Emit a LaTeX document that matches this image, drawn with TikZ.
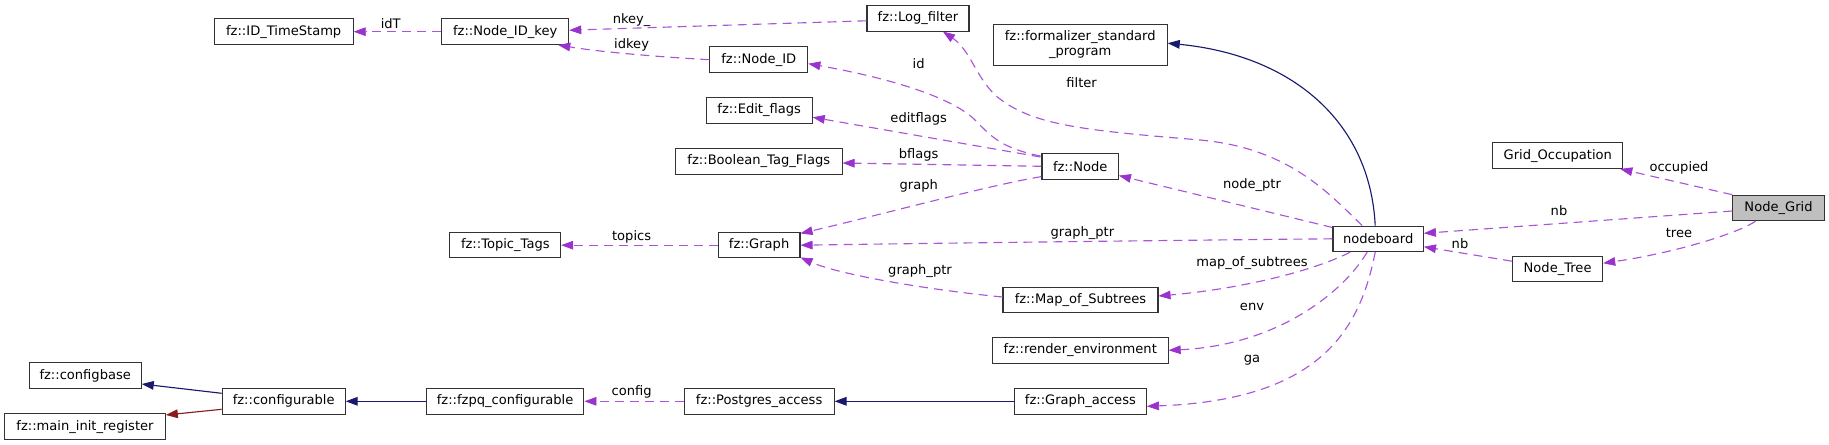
\documentclass[tikz,border=0pt]{standalone}
\usepackage{fontspec}
\setmainfont{DejaVu Sans}
\usetikzlibrary{arrows.meta,calc}
\definecolor{dorchid}{HTML}{9A32CD}
\definecolor{dline}{HTML}{A855D8}
\definecolor{mnblue}{HTML}{191970}
\definecolor{fbrick}{HTML}{8B1A1A}
\definecolor{gfill}{HTML}{BFBFBF}
\definecolor{bord}{HTML}{333333}
\tikzset{
  bx/.style={draw=bord, line width=0.8pt, rectangle, inner sep=0pt,
    minimum height=25.5*0.75pt, minimum width=#1*0.75pt, align=center,
    font=\fontsize{9.8}{11.6}\selectfont},
  lbl/.style={inner sep=0pt, font=\fontsize{9.8}{11.6}\selectfont},
  dep/.style={draw=dline, line width=0.85pt, dash pattern=on 6.75pt off 4.5pt,
    -{Triangle[length=9pt,width=6.5pt,color=dorchid,fill=dorchid,line width=0.5pt,sep=0pt]}},
  inh/.style={draw=mnblue, line width=0.85pt,
    -{Triangle[length=9pt,width=6.5pt,fill=mnblue]}},
  inhr/.style={draw=fbrick, line width=0.85pt,
    -{Triangle[length=9pt,width=6.5pt,fill=fbrick]}}
}
\begin{document}
\begin{tikzpicture}[x=0.75pt,y=-0.75pt]
\useasboundingbox (0,0) rectangle (1829,445);
% nodes
\node[bx=139] (ts) at (283.7,31.7) {fz::ID\_TimeStamp};
\node[bx=127] (nik) at (505.2,31.7) {fz::Node\_ID\_key};
\node[bx=102] (lf) at (918,18.3) {fz::Log\_filter};
\node[bx=174, minimum height=41*0.75pt] (fsp) at (1080.2,44.7) {fz::formalizer\_standard\\\_program};
\node[bx=98] (nid) at (758.8,59.7) {fz::Node\_ID};
\node[bx=106] (ef) at (759.2,110.3) {fz::Edit\_flags};
\node[bx=166.5] (btf) at (758.8,161.5) {fz::Boolean\_Tag\_Flags};
\node[bx=76.4] (nd) at (1080.2,166.3) {fz::Node};
\node[bx=130] (go) at (1557.8,155.7) {Grid\_Occupation};
\node[bx=91.5, fill=gfill] (ng) at (1778.5,208) {Node\_Grid};
\node[bx=90.4] (nb) at (1378.2,238.8) {nodeboard};
\node[bx=90.2] (nt) at (1557.6,269.2) {Node\_Tree};
\node[bx=110.7] (tt) at (505.3,245.2) {fz::Topic\_Tags};
\node[bx=81.8] (gr) at (759.1,245.2) {fz::Graph};
\node[bx=155] (mos) at (1080.5,300) {fz::Map\_of\_Subtrees};
\node[bx=175.6] (re) at (1080.3,350.3) {fz::render\_environment};
\node[bx=112] (cb) at (85.2,375.7) {fz::configbase};
\node[bx=123] (cf) at (283.7,401.3) {fz::configurable};
\node[bx=160.6] (mir) at (85,426.7) {fz::main\_init\_register};
\node[bx=157.7] (fzpq) at (505.1,401.3) {fz::fzpq\_configurable};
\node[bx=150] (pa) at (759.1,401.3) {fz::Postgres\_access};
\node[bx=132] (gac) at (1080.4,401.3) {fz::Graph\_access};
% edges
\draw[dep] (nik.west) -- (ts.east);
\draw[dep] ($(lf.west)+(0,2.5)$) -- ($(nik.east)+(0,-1.5)$);
\draw[dep] (nid.west) .. controls (660,57) and (600,52) .. ($(nik.south east)+(-11,0)$);
\draw[dep] ($(nd.north west)+(-1,3)$) .. controls (1000,148) and (990,135) .. (975,120)
  .. controls (955,100) and (900,80) .. ($(nid.east)+(0,4)$);
\draw[dep] ($(nb.north)+(-16,0)$) .. controls (1330,195) and (1290,148) .. (1200,140)
  .. controls (1080,130) and (1030,125) .. (995,95)
  .. controls (975,75) and (970,50) .. ($(lf.south)+(25,0)$);
\draw[dep] ($(nd.north west)+(-1,4)$) -- ($(ef.east)+(0,7)$);
\draw[dep] (nd.west) -- ($(btf.east)+(0,1.5)$);
\draw[dep] ($(nd.south west)+(0,-3)$) .. controls (990,185) and (880,215) .. ($(gr.north east)+(0,1.5)$);
\draw[dep] ($(nb.north west)+(0,2)$) -- ($(nd.south east)+(0,-4)$);
\draw[dep] (nb.west) .. controls (1200,240) and (950,243) .. (gr.east);
\draw[dep] ($(mos.west)+(0,-3)$) .. controls (930,290) and (840,275) .. ($(gr.south east)+(0,-1)$);
\draw[dep] ($(nb.south)+(-28,0)$) .. controls (1320,268) and (1250,288) .. ($(mos.east)+(0,-4)$);
\draw[dep] ($(nb.south)+(-11,0)$) .. controls (1345,290) and (1280,345) .. (re.east);
\draw[dep] ($(nb.south)+(-3,0)$) .. controls (1360,330) and (1320,400) .. ($(gac.east)+(0,5)$);
\draw[inh] ($(nb.north)+(-3,0)$) .. controls (1370,120) and (1290,55) .. ($(fsp.east)+(0,-1.5)$);
\draw[dep] (ng.north west) -- ($(go.south east)+(-3,0)$);
\draw[dep] ($(ng.west)+(0,3)$) -- ($(nb.east)+(0,-5.5)$);
\draw[dep] ($(ng.south)+(-23,0)$) .. controls (1740,232) and (1680,252) .. ($(nt.east)+(0,-6)$);
\draw[dep] ($(nt.west)+(0,-8)$) -- ($(nb.east)+(0,8)$);
\draw[dep] (gr.west) -- (tt.east);
\draw[dep] (pa.west) -- (fzpq.east);
\draw[inh] (gac.west) -- (pa.east);
\draw[inh] (fzpq.west) -- (cf.east);
\draw[inh] ($(cf.west)+(0,-8)$) -- ($(cb.east)+(0,8.3)$);
\draw[inhr] ($(cf.west)+(0,8)$) -- ($(mir.east)+(0,-11.7)$);
% labels
\node[lbl] (l1) at (390.7,24) {idT};
\node[lbl] (l2) at (631.6,20) {nkey\_};
\node[lbl] (l3) at (631.6,45) {idkey};
\node[lbl] (l4) at (918.7,64) {id};
\node[lbl] (l5) at (1081.6,83) {filter};
\node[lbl] (l6) at (918.7,119) {editflags};
\node[lbl] (l7) at (918.7,155) {bflags};
\node[lbl] (l8) at (918.7,186) {graph};
\node[lbl] (l9) at (631.6,237) {topics};
\node[lbl] (l10) at (1082.4,233) {graph\_ptr};
\node[lbl] (l11) at (920,271) {graph\_ptr};
\node[lbl] (l12) at (631.6,392) {config};
\node[lbl] (l13) at (1252,185) {node\_ptr};
\node[lbl] (l14) at (1252,263) {map\_of\_subtrees};
\node[lbl] (l15) at (1252,307) {env};
\node[lbl] (l16) at (1252,360) {ga};
\node[lbl] (l17) at (1679,168) {occupied};
\node[lbl] (l18) at (1559,211) {nb};
\node[lbl] (l19) at (1679,233) {tree};
\node[lbl] (l20) at (1460,244) {nb};
\end{tikzpicture}
\end{document}
